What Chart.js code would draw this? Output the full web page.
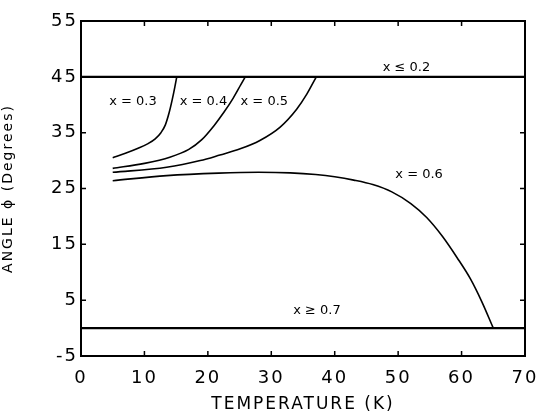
<!DOCTYPE html>
<html>
<head>
<meta charset="utf-8">
<script src="https://cdn.jsdelivr.net/npm/chart.js@4"></script>
<style>
  html, body { margin: 0; padding: 0; background: #fff; }
  #wrap { width: 538px; height: 417px; position: relative; }
</style>
</head>
<body>
<div id="wrap"><canvas id="angleChart"></canvas></div>
<script>
// Temperatures (K) and angles (degrees)
const temp03 = [5, 7, 9, 10.5, 11.7, 12.6, 13.3, 13.9, 14.4, 14.8, 15.1];
const angle03 = [30.5, 31.3, 32.2, 33.0, 33.9, 35.0, 36.4, 38.6, 41.0, 43.2, 45];

const temp04 = [5, 10, 14, 17, 19, 21, 22.5, 24, 25.2, 25.9];
const angle04 = [28.6, 29.5, 30.6, 32.0, 33.7, 36.3, 38.6, 41.2, 43.6, 45];

const temp05 = [5, 13.5, 18.8, 21.9, 25.1, 28.2, 31.4, 34.0, 35.6, 37.1];
const angle05 = [27.9, 28.8, 30.0, 31.0, 32.1, 33.6, 36.0, 39.2, 41.9, 45];

const temp06 = [5, 13.5, 21.7, 28, 33, 37, 40, 43, 46, 49, 52, 54.5, 57, 59.3, 61.4, 63.2, 65];
const angle06 = [26.4, 27.3, 27.75, 27.9, 27.8, 27.5, 27.1, 26.5, 25.7, 24.4, 22.3, 19.8, 16.4, 12.6, 8.8, 4.7, 0];

const tempLow = [0, 70];
const angleLow = [45, 45];   // x <= 0.2
const tempHigh = [0, 70];
const angleHigh = [0, 0];    // x >= 0.7

const xTicks = [0, 10, 20, 30, 40, 50, 60, 70];
const yTicks = [-5, 5, 15, 25, 35, 45, 55];

// curve labels, placed in data coordinates
const labelTexts = ['x = 0.3', 'x = 0.4', 'x = 0.5', 'x ≤ 0.2', 'x = 0.6', 'x ≥ 0.7'];
const labelTemps = [8.2, 19.3, 28.9, 51.3, 53.3, 37.2];
const labelAngles = [40.5, 40.5, 40.5, 46.6, 27.4, 3.2];

function toPoints(xs, ys) {
    return xs.map((x, i) => ({ x: x, y: ys[i] }));
}

const ink = '#000000';
const fontFamily = '"DejaVu Sans", "Liberation Sans", Arial, sans-serif';

function curve(xs, ys, width) {
    return {
        data: toPoints(xs, ys),
        borderColor: ink,
        borderWidth: width,
        pointRadius: 0,
        showLine: true,
        cubicInterpolationMode: 'monotone',
        fill: false,
    };
}

// the printed figure uses widely spaced lettering
const spacingPlugin = {
    id: 'spacing',
    beforeLayout(chart) { chart.ctx.letterSpacing = '2px'; },
    beforeDraw(chart) { chart.ctx.letterSpacing = '2px'; },
};

// frame box, inward tick marks on all four sides, curve labels
const framePlugin = {
    id: 'frame',
    afterDatasetsDraw(chart) {
        const { ctx, chartArea: a, scales } = chart;
        ctx.save();
        ctx.strokeStyle = ink;
        ctx.lineWidth = 2;
        ctx.strokeRect(a.left, a.top, a.right - a.left, a.bottom - a.top);
        ctx.lineWidth = 1.5;
        ctx.beginPath();
        xTicks.forEach((t) => {
            const px = scales.x.getPixelForValue(t);
            ctx.moveTo(px, a.bottom);
            ctx.lineTo(px, a.bottom - 5);
            ctx.moveTo(px, a.top);
            ctx.lineTo(px, a.top + 5);
        });
        yTicks.forEach((t) => {
            const py = scales.y.getPixelForValue(t);
            ctx.moveTo(a.left, py);
            ctx.lineTo(a.left + 5, py);
            ctx.moveTo(a.right, py);
            ctx.lineTo(a.right - 5, py);
        });
        ctx.stroke();

        ctx.letterSpacing = '0px';
        ctx.fillStyle = ink;
        ctx.font = '13px ' + fontFamily;
        ctx.textAlign = 'center';
        ctx.textBaseline = 'middle';
        labelTexts.forEach((txt, i) => {
            ctx.fillText(txt, scales.x.getPixelForValue(labelTemps[i]), scales.y.getPixelForValue(labelAngles[i]));
        });
        ctx.restore();
    },
};

new Chart(document.getElementById('angleChart'), {
    type: 'scatter',
    data: {
        datasets: [
            curve(tempLow, angleLow, 2.2),
            curve(tempHigh, angleHigh, 2.2),
            curve(temp03, angle03, 1.6),
            curve(temp04, angle04, 1.6),
            curve(temp05, angle05, 1.6),
            curve(temp06, angle06, 1.6),
        ],
    },
    options: {
        responsive: true,
        maintainAspectRatio: false,
        animation: false,
        layout: { padding: { top: 21, right: 13, left: 0, bottom: 0 } },
        plugins: {
            legend: { display: false },
            tooltip: { enabled: false },
        },
        scales: {
            x: {
                type: 'linear',
                min: 0,
                max: 70,
                afterBuildTicks: (scale) => { scale.ticks = xTicks.map((v) => ({ value: v })); },
                afterFit: (scale) => {
                    scale.height = 61;
                    scale.paddingLeft = 0;
                    scale.paddingRight = 0;
                },
                grid: { display: false, drawTicks: false },
                border: { display: false },
                ticks: { color: ink, font: { family: fontFamily, size: 18 }, padding: 12, maxRotation: 0 },
                title: {
                    display: true,
                    text: 'TEMPERATURE (K)',
                    color: ink,
                    font: { family: fontFamily, size: 17 },
                    padding: { top: 2, bottom: 2 },
                },
            },
            y: {
                type: 'linear',
                min: -5,
                max: 55,
                afterBuildTicks: (scale) => { scale.ticks = yTicks.map((v) => ({ value: v })); },
                afterFit: (scale) => { scale.width = 81; },
                grid: { display: false, drawTicks: false },
                border: { display: false },
                ticks: { color: ink, font: { family: fontFamily, size: 18 }, padding: 3 },
                title: {
                    display: true,
                    text: 'ANGLE ϕ (Degrees)',
                    color: ink,
                    font: { family: fontFamily, size: 14 },
                    padding: { top: 0, bottom: 0 },
                },
            },
        },
    },
    plugins: [spacingPlugin, framePlugin],
});
</script>
</body>
</html>
